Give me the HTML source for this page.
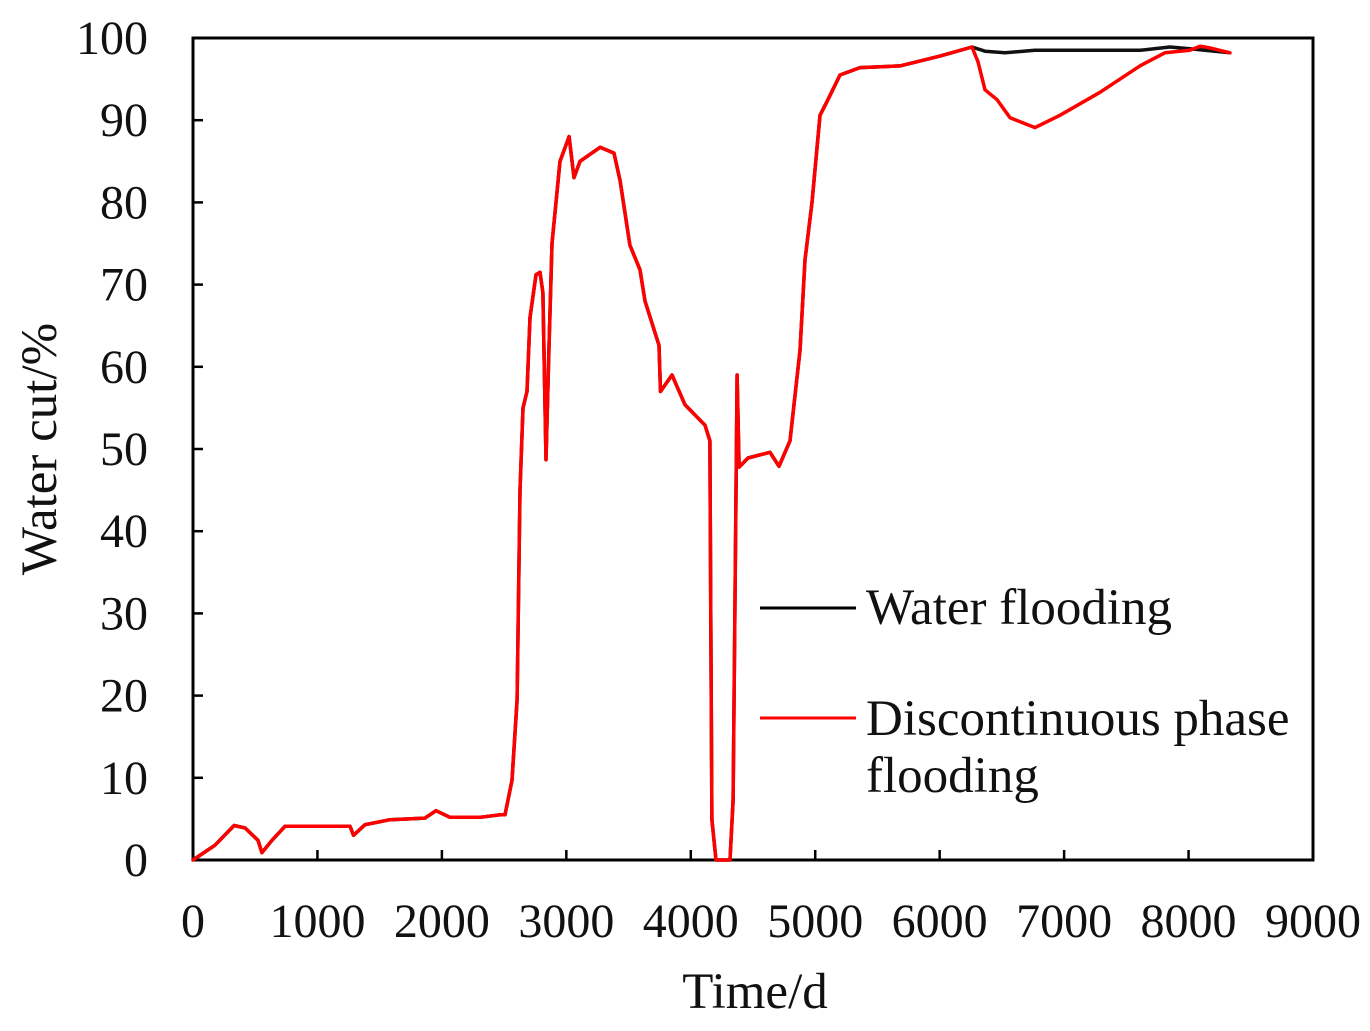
<!DOCTYPE html>
<html><head><meta charset="utf-8"><style>
body{margin:0;background:#fff}
svg text{font-family:"Liberation Serif",serif;fill:#111}
</style></head><body>
<svg id="chart" width="1370" height="1026">
<g id="axes"></g><g id="series"></g>
<text x="56" y="449" font-size="51" text-anchor="middle" transform="rotate(-90 56 449)">Water cut/%</text>
<text x="755" y="1008" font-size="51" text-anchor="middle">Time/d</text>
<g>
<line x1="760" y1="608" x2="856" y2="608" stroke="#000" stroke-width="3"/>
<text x="866" y="624" font-size="51">Water flooding</text>
<line x1="760" y1="718" x2="856" y2="718" stroke="#f00" stroke-width="3"/>
<text x="866" y="735" font-size="51">Discontinuous phase</text>
<text x="866" y="792" font-size="51">flooding</text>
</g>
</svg>
<script>
const xTicks=[0,1000,2000,3000,4000,5000,6000,7000,8000,9000];
const yTicks=[0,10,20,30,40,50,60,70,80,90,100];
const redT=[0,177,330,418,522,554,635,739,1262,1290,1382,1583,1864,1953,2065,2306,2467,2507,2563,2604,2628,2652,2684,2708,2756,2788,2812,2837,2860,2885,2949,3022,3062,3110,3271,3383,3431,3511,3592,3632,3745,3757,3849,3953,4114,4154,4160,4170,4203,4315,4340,4355,4372,4388,4460,4637,4709,4797,4878,4918,4974,5038,5103,5199,5360,5681,6003,6260,6308,6364,6461,6565,6766,6966,7288,7609,7810,8011,8092,8172,8333];
const redV=[0,1.8,4.2,3.9,2.4,0.9,2.4,4.1,4.1,3.0,4.3,4.9,5.1,6.0,5.2,5.2,5.5,5.5,9.7,19.5,45,55,57,66,71.2,71.5,69,48.7,62,75,85,88,83,85,86.7,86,82.7,74.8,71.8,68,62.6,57,59,55.4,52.9,51,31.6,4.9,0,0,7.3,31.6,59,47.8,48.9,49.6,47.9,51,62,73,80,90.6,92.5,95.5,96.4,96.6,97.8,98.9,97.1,93.7,92.5,90.3,89.1,90.6,93.4,96.6,98.2,98.5,99.0,98.8,98.2];
const blackTailT=[6364,6525,6766,7609,7850,8011,8333];
const blackTailV=[98.4,98.2,98.5,98.5,98.9,98.7,98.2];
const X0=193,X1=1313,Y0=860,Y1=38;
const sx=t=>X0+(t-0)/9000*(X1-X0);
const sy=v=>Y0-(v/100)*(Y0-Y1);
const NS="http://www.w3.org/2000/svg";
const axes=document.getElementById('axes'),series=document.getElementById('series');
function mk(tag,attrs,parent){const e=document.createElementNS(NS,tag);for(const k in attrs)e.setAttribute(k,attrs[k]);parent.appendChild(e);return e;}
const frame=mk('rect',{x:X0,y:Y1,width:X1-X0,height:Y0-Y1,fill:'none',stroke:'#000','stroke-width':3},axes);


xTicks.forEach(t=>{
 const l=mk('line',{x1:sx(t),x2:sx(t),y1:Y0,y2:Y0-10,stroke:'#000','stroke-width':2.5},axes);
 
 
 const tx=mk('text',{x:sx(t),y:Y0+77,'font-size':48,'text-anchor':'middle'},axes);
 tx.textContent=t;
 
 
});
yTicks.forEach(v=>{
 const l=mk('line',{x1:X0,x2:X0+10,y1:sy(v),y2:sy(v),stroke:'#000','stroke-width':2.5},axes);
 
 
 const tx=mk('text',{x:X0-45,y:sy(v)+16,'font-size':48,'text-anchor':'end'},axes);
 tx.textContent=v;
 
 
});
const bT=[],bV=[];
redT.forEach((t,i)=>{if(t<=6260){bT.push(t);bV.push(redV[i]);}});
blackTailT.forEach((t,i)=>{bT.push(t);bV.push(blackTailV[i]);});
const pts=(T,V)=>T.map((t,i)=>sx(t).toFixed(1)+','+sy(V[i]).toFixed(1)).join(' ');
const bl=mk('polyline',{points:pts(bT,bV),fill:'none',stroke:'#111','stroke-width':3.5,'stroke-linejoin':'round'},series);


const rl=mk('polyline',{points:pts(redT,redV),fill:'none',stroke:'#f00','stroke-width':3.5,'stroke-linejoin':'round','stroke-linecap':'round'},series);


</script>
</body></html>
